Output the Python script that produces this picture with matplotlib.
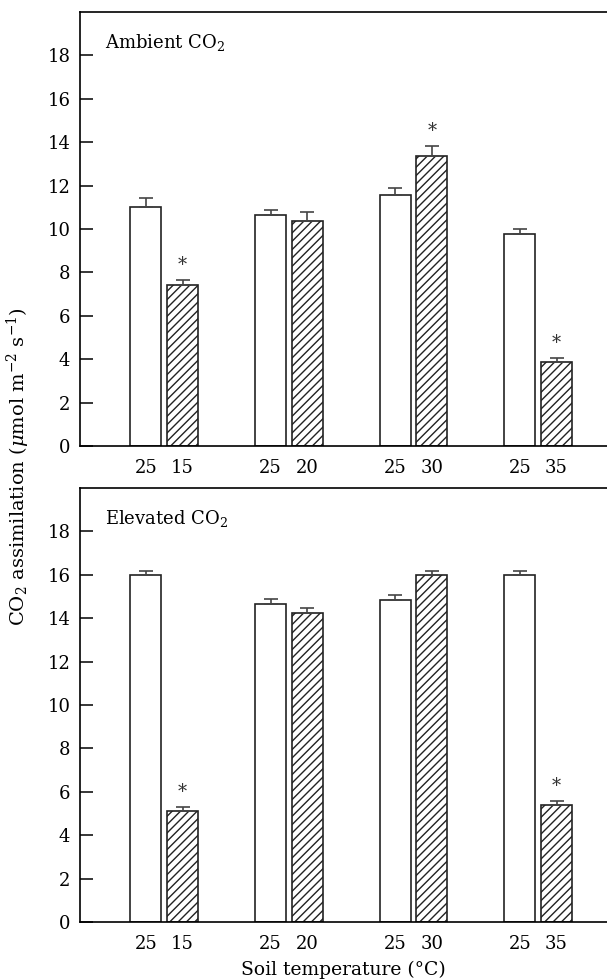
import matplotlib
matplotlib.use("Agg")
import matplotlib.pyplot as plt
import numpy as np

plt.rcParams['font.family'] = ['DejaVu Serif']
plt.rcParams['mathtext.fontset'] = 'dejavuserif'
plt.rcParams['hatch.linewidth'] = 1.0

control_temp = ["25", "25", "25", "25"]
soil_temp = ["15", "20", "30", "35"]

amb_control = [11.0, 10.65, 11.55, 9.75]
amb_control_err = [0.42, 0.22, 0.33, 0.26]
amb_treat = [7.42, 10.38, 13.37, 3.87]
amb_treat_err = [0.22, 0.40, 0.45, 0.18]
amb_sig = [True, False, True, True]

elev_control = [15.97, 14.65, 14.83, 15.97]
elev_control_err = [0.19, 0.22, 0.23, 0.21]
elev_treat = [5.10, 14.25, 15.97, 5.38]
elev_treat_err = [0.19, 0.24, 0.19, 0.19]
elev_sig = [True, False, False, True]

panels = [
    ("Ambient CO$_2$", amb_control, amb_control_err, amb_treat, amb_treat_err, amb_sig),
    ("Elevated CO$_2$", elev_control, elev_control_err, elev_treat, elev_treat_err, elev_sig),
]

fig = plt.figure(figsize=(6.07, 9.80), dpi=100)
W, H = 607.0, 980.0
ax_boxes = [
    (80 / W, 1 - 446 / H, 527 / W, 434 / H),
    (80 / W, 1 - 922 / H, 527 / W, 434 / H),
]

x = np.arange(1, 5)
off = 0.147
bw = 0.248
edge = '#222222'

for i, (title, c, ce, t, te, sig) in enumerate(panels):
    ax = fig.add_axes(ax_boxes[i])
    ax.bar(x - off, c, bw, color='white', edgecolor=edge, linewidth=1.2, zorder=2)
    ax.bar(x + off, t, bw, color='white', edgecolor=edge, linewidth=1.2,
           hatch='////', zorder=2)
    ax.errorbar(x - off, c, yerr=[np.zeros(4), ce], fmt='none', ecolor='#444444',
                elinewidth=1.2, capsize=4.8, capthick=1.2, zorder=3)
    ax.errorbar(x + off, t, yerr=[np.zeros(4), te], fmt='none', ecolor='#444444',
                elinewidth=1.2, capsize=4.8, capthick=1.2, zorder=3)
    for xi, v, e, s in zip(x + off, t, te, sig):
        if s:
            ax.text(xi, v + e + 0.3, '*', ha='center', va='bottom', fontsize=13,
                    color='#333333')
    ax.set_xlim(0.3245, 4.552)
    ax.set_ylim(0, 20)
    ax.set_yticks(np.arange(0, 19, 2))
    ax.set_xticks(np.concatenate([x - off, x + off]))
    ax.set_xticklabels(control_temp + soil_temp)
    ax.tick_params(axis='y', direction='in', length=9.5, width=1.1, pad=7, labelsize=13)
    ax.tick_params(axis='x', length=0, pad=9, labelsize=13)
    ax.spines['right'].set_visible(False)
    for sp in ['left', 'bottom', 'top']:
        ax.spines[sp].set_linewidth(1.2)
    ax.text(0.047, 0.955, title, transform=ax.transAxes, ha='left', va='top', fontsize=13)
    if i == 1:
        ax.set_xlabel('Soil temperature (°C)', fontsize=13.5, labelpad=6)

fig.text(18 / W, 1 - 467 / H, 'CO$_2$ assimilation ($\\mu$mol m$^{-2}$ s$^{-1}$)',
         rotation=90, ha='center', va='center', fontsize=14)

fig.savefig('out.png', dpi=100)
